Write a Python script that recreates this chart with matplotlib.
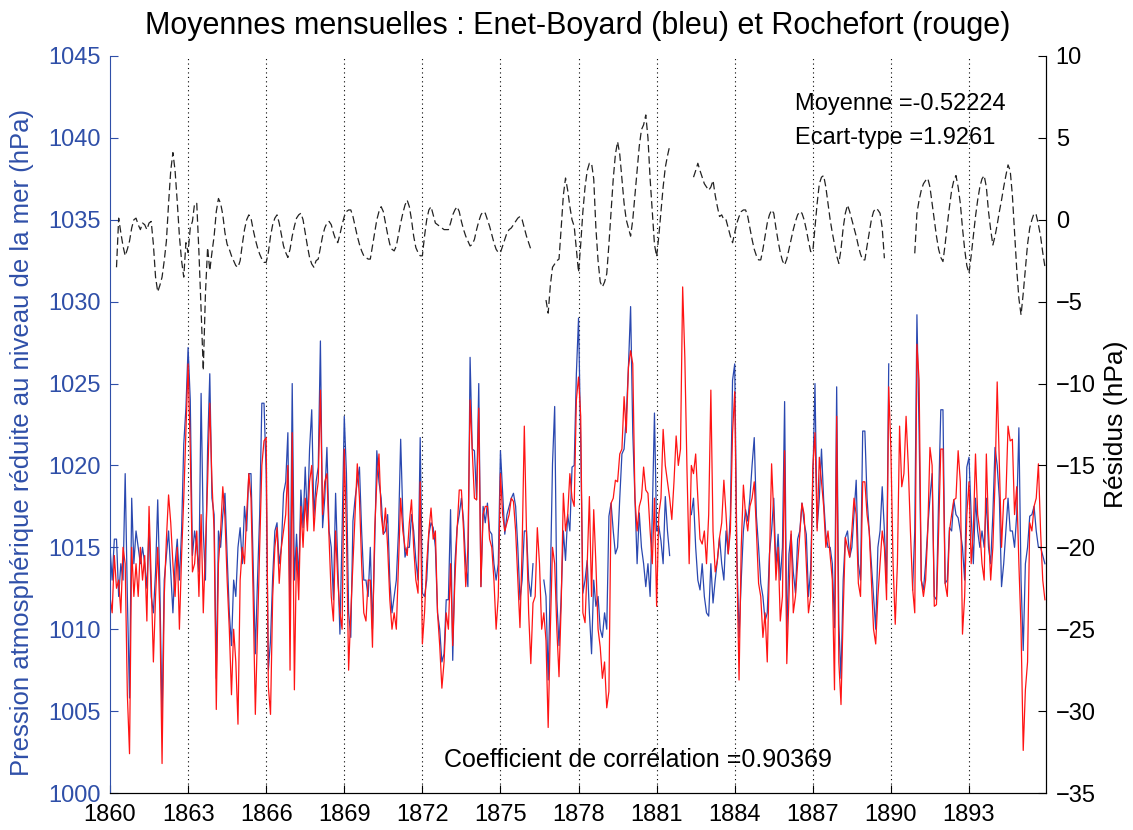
import numpy as np
import matplotlib
matplotlib.use("Agg")
import matplotlib.pyplot as plt

nan = np.nan
start_year = 1860

# Enet-Boyard monthly mean pressure (hPa), one row per year 1860..1895
enet_boyard = [
    [1015, 1013, 1015.5, 1015.5, 1012, 1014, 1013, 1019.5, 1012, 1005.8, 1018, 1014],
    [1016, 1015, 1014, 1015, 1014, 1012.5, 1016.4, 1012, 1011, 1013.5, 1017.9, 1012.5],
    [1004.5, 1013, 1014.5, 1016, 1013.5, 1011, 1014, 1015.5, 1013, 1016, 1021.3, 1023.5],
    [1027.2, 1024, 1014.5, 1016, 1015, 1013.5, 1024.4, 1016, 1013, 1021, 1025.6, 1018],
    [1017, 1007, 1016, 1015, 1017, 1018.3, 1014.5, 1011, 1009, 1013, 1012, 1015],
    [1016.2, 1014, 1017.5, 1016, 1019.5, 1019.5, 1014, 1008.5, 1013, 1017, 1023.8, 1023.8],
    [1019.5, 1007.5, 1009.3, 1013.2, 1016, 1016.5, 1014, 1015, 1018.3, 1019, 1022, 1010.5],
    [1025, 1013, 1015.8, 1013, 1018.5, 1016.2, 1019.9, 1016.6, 1021, 1023.4, 1016.9, 1019],
    [1019.9, 1027.6, 1016.2, 1018, 1021.1, 1016, 1015, 1011.8, 1018.3, 1014, 1009.7, 1016],
    [1023, 1019.5, 1011, 1009.5, 1016.6, 1018, 1019, 1019.9, 1016, 1013, 1013, 1012],
    [1015, 1010, 1015, 1020.9, 1019, 1018, 1015.8, 1016, 1017, 1013, 1011, 1012],
    [1013, 1016, 1021.6, 1016.9, 1014.4, 1015, 1015, 1017, 1016, 1014.2, 1013, 1021.7],
    [1012.2, 1012, 1013, 1015.8, 1016.5, 1016.2, 1015, 1011, 1010, 1008, 1008.5, 1011.8],
    [1011.8, 1017.3, 1008.1, 1014, 1016.2, 1017, 1018, 1016.6, 1014, 1012.6, 1026.6, 1021],
    [1020.9, 1017.9, 1025, 1012.6, 1017.5, 1016.5, 1017.7, 1016, 1015.8, 1014, 1013, 1014],
    [1020.9, 1018.3, 1015.8, 1017, 1017.5, 1018, 1018.3, 1017.5, 1015, 1011.8, 1013, 1016],
    [1016, 1013, 1012, 1014, nan, nan, nan, nan, 1013, 1012, 1006.9, 1013],
    [1020.1, 1023.6, 1011.8, 1009, 1012, 1016, 1014.2, 1017, 1016, 1019.9, 1020, 1025.6],
    [1029, 1021.3, 1012.2, 1013, 1014.2, 1011, 1008.5, 1013, 1011.4, 1012, 1010, 1009.5],
    [1011, 1010, 1016.9, 1017.7, 1016, 1014.6, 1015, 1018, 1020.7, 1021, 1023, 1026],
    [1029.7, 1022, 1017.9, 1014, 1017.1, 1015, 1014, 1012.6, 1014, 1012, 1017, 1023.2],
    [1016, 1016.3, 1015.4, 1014, 1018.1, 1016, 1014.5, nan, nan, nan, nan, nan],
    [nan, nan, nan, nan, 1017, 1018, 1015, 1013, 1012.4, 1014, 1012, 1011],
    [1010.8, 1014, 1011.6, 1013, 1014.2, 1015.6, 1014, 1013, 1016, 1014.6, 1017, 1025.2],
    [1026.2, 1014.6, 1009.5, 1013, 1016, 1017.3, 1016.6, 1018, 1020, 1021.7, 1016.9, 1015],
    [1012.8, 1012, 1010.5, 1011, 1014.6, 1016, 1018, 1013.8, 1015.8, 1013, 1015, 1023.9],
    [1009.5, 1014.6, 1015.8, 1013.5, 1012.2, 1015.5, 1016, 1017.7, 1016.5, 1015.8, 1012, 1013.6],
    [1019, 1025, 1016.2, 1018, 1021, 1017.9, 1015.8, 1015, 1015, 1014, 1010.1, 1024.8],
    [1010.3, 1007, 1013, 1015.6, 1016, 1014.4, 1015, 1017, 1019.1, 1014, 1013, 1022.1],
    [1022.1, 1018, 1016, 1014, 1012, 1010, 1015, 1016, 1018.7, 1016, 1012.8, 1026.2],
    [nan, nan, nan, nan, nan, nan, nan, nan, nan, nan, 1012.4, 1016],
    [1029.2, 1022, 1013, 1012.4, 1014, 1016.2, 1018, 1019.5, 1012, 1011.8, 1018, 1023.4],
    [1023.4, 1012.8, 1013, 1016.2, 1016, 1017.9, 1017, 1016.8, 1016, 1015, 1013, 1019.9],
    [1020.5, 1017, 1014, 1018, 1016, 1015, 1016, 1015, 1018, 1015, 1014, 1017],
    [1021.1, 1020, 1018, 1012.6, 1014, 1016, 1018, 1016, 1016, 1015, 1017, 1022.3],
    [1013, 1008.7, 1014, 1015, 1016.9, 1017, 1017.5, 1016, 1015, 1015, 1014.5, 1014],
]

# Rochefort monthly mean pressure (hPa)
rochefort = [
    [1012, 1011, 1014.5, 1012.5, 1013, 1011, 1015, 1014, 1006, 1002.4, 1015, 1012],
    [1014, 1012, 1015, 1013, 1014.5, 1010.5, 1017.5, 1013, 1008, 1012, 1015, 1011],
    [1001.8, 1012, 1015.5, 1018.2, 1016.5, 1014, 1012, 1015, 1010, 1014.5, 1018, 1022],
    [1026.2, 1021, 1013.5, 1014, 1016, 1012, 1017, 1011, 1015, 1019, 1023.8, 1019],
    [1016, 1005.1, 1014, 1016, 1018.7, 1016.8, 1013, 1010, 1006, 1010, 1008, 1004.2],
    [1013, 1015, 1014, 1017, 1019.5, 1018, 1012, 1004.8, 1010, 1015, 1020, 1021.5],
    [1021.7, 1006.5, 1004.8, 1012, 1015, 1016.2, 1012.8, 1015, 1016, 1017, 1020, 1007.5],
    [1022, 1006.3, 1015, 1011.8, 1017.5, 1015, 1018, 1016, 1019, 1020, 1016, 1018],
    [1019, 1024.6, 1017, 1019, 1019.5, 1015.5, 1012, 1010.5, 1016, 1013, 1011, 1010],
    [1021, 1016, 1007.5, 1011, 1014, 1017, 1020.1, 1018, 1014, 1011, 1010.5, 1013],
    [1013, 1008.9, 1016, 1019, 1020.7, 1017, 1015.8, 1017.4, 1015, 1011.8, 1010, 1011],
    [1010, 1014, 1018, 1016, 1015, 1014.5, 1016.5, 1017.9, 1015, 1013, 1012.2, 1019],
    [1009.1, 1011, 1014, 1016, 1017.4, 1015.5, 1016, 1011, 1009, 1006.4, 1008, 1011],
    [1010, 1014, 1009, 1013, 1016, 1018.5, 1018.5, 1016, 1012.6, 1015, 1024, 1020.9],
    [1018, 1017.9, 1023.5, 1012.6, 1017, 1017.5, 1017.5, 1015.5, 1015, 1013, 1010, 1012],
    [1019.5, 1017, 1016, 1016.5, 1017, 1018, 1017.8, 1016, 1013, 1010.1, 1015, 1022.4],
    [1016, 1011, 1007.9, 1011.6, 1012, 1016.2, 1014, 1010, 1011, 1009.3, 1004, 1010],
    [1015, 1014, 1010, 1007.1, 1011.5, 1018.3, 1016, 1017, 1019.5, 1018, 1017.5, 1024],
    [1025.4, 1023, 1011, 1010.4, 1014, 1018.1, 1012, 1017.3, 1014, 1010, 1008.9, 1007],
    [1008, 1005.2, 1006.2, 1017.7, 1018, 1019.1, 1019, 1020.7, 1021, 1024.2, 1022, 1026],
    [1027, 1026.2, 1018, 1016, 1017.5, 1018, 1019.9, 1018.5, 1018.3, 1016, 1014, 1018],
    [1011.4, 1017, 1018, 1022.2, 1020, 1019, 1018, 1016.7, 1019, 1021.8, 1020, 1021],
    [1030.9, 1026.6, 1019.7, 1014, 1020, 1019.5, 1020.7, 1018, 1015.5, 1015.2, 1016, 1014],
    [1017, 1024.6, 1016, 1013.5, 1014.2, 1015.6, 1016.5, 1019.1, 1017, 1014.6, 1016, 1022],
    [1024.5, 1014, 1006.9, 1015, 1018.8, 1017, 1016, 1017.5, 1018, 1019, 1016, 1012.8],
    [1012, 1009.5, 1011, 1008, 1014, 1020.1, 1017, 1013, 1015, 1010.5, 1012, 1020.9],
    [1007.9, 1012, 1016, 1011, 1012, 1014, 1015.8, 1017.7, 1017, 1014, 1011, 1012],
    [1019.9, 1022, 1016, 1020.5, 1019, 1017.5, 1015, 1016, 1014.5, 1013, 1006.3, 1023],
    [1008, 1005.4, 1011, 1015.6, 1015, 1014.4, 1016, 1018, 1017, 1012.8, 1012, 1019],
    [1019, 1017, 1016, 1013, 1010, 1009.1, 1012, 1014, 1016, 1015, 1011.8, 1024.8],
    [1020.9, 1014, 1010.3, 1014, 1022.4, 1018.7, 1019.5, 1023, 1020, 1016, 1012.5, 1011],
    [1027.4, 1025.2, 1013, 1012, 1013, 1016, 1021.1, 1020, 1011.4, 1011.5, 1016, 1021],
    [1021, 1012.8, 1012, 1016, 1017, 1017.9, 1018, 1020.9, 1019, 1009.7, 1012, 1017],
    [1019, 1014, 1016, 1020.7, 1017, 1016, 1014, 1013, 1020.7, 1016, 1013, 1015],
    [1019, 1025.1, 1020, 1015, 1017.9, 1018, 1022.4, 1021.5, 1021.6, 1017, 1018.7, 1014],
    [1010, 1002.6, 1006.3, 1008, 1016.5, 1016, 1017.5, 1018, 1020.1, 1016, 1013, 1011.8],
]

# Residuals (hPa), right axis
residus = [
    [nan, nan, nan, -2.9, 0.1, -0.8, -1.6, -2.2, -1.8, -1.3, -0.5, 0.0],
    [0.1, -0.3, -0.6, -0.2, -0.3, -0.6, -0.2, -0.1, -1.5, -3.5, -4.4, -4.0],
    [-3.5, -2.5, -1.3, 1.0, 3.0, 4.1, 3.0, 1.1, -1.0, -2.5, -3.5, -1.4],
    [-2.0, -0.5, -0.1, 1.0, 1.0, -2.0, -5.5, -9.2, -4.5, -1.7, -3.1, -2.0],
    [-1.0, 0.5, 1.3, 1.0, 0.3, -0.8, -1.5, -1.8, -2.2, -2.5, -2.8, -2.9],
    [-2.5, -1.5, -0.6, 0.0, 0.3, 0.1, -0.6, -1.2, -1.7, -2.1, -2.4, -2.6],
    [-2.6, -2.0, -1.0, -0.3, 0.1, 0.3, -0.2, -0.9, -1.6, -2.0, -2.3, -1.8],
    [-1.0, -0.4, 0.1, 0.3, 0.4, 0.0, -0.8, -1.6, -2.3, -2.7, -2.9, -2.5],
    [-2.4, -1.7, -1.0, -0.5, -0.2, -0.1, -0.3, -0.8, -1.2, -1.4, -0.9, -0.3],
    [0.2, 0.5, 0.6, 0.6, 0.2, -0.4, -1.0, -1.5, -1.9, -2.2, -2.3, -2.4],
    [-2.4, -1.6, -0.8, 0.0, 0.5, 0.8, 0.5, -0.2, -0.9, -1.5, -1.8, -1.9],
    [-1.6, -0.9, -0.2, 0.4, 0.9, 1.2, 0.8, 0.0, -1.0, -1.7, -2.0, -2.2],
    [-2.2, -1.0, 0.0, 0.6, 0.8, 0.3, -0.2, -0.3, -0.4, -0.5, -0.6, -0.6],
    [-0.6, -0.2, 0.3, 0.6, 0.8, 0.5, -0.1, -0.6, -1.0, -1.3, -1.6, -1.5],
    [-1.2, -0.6, -0.1, 0.3, 0.5, 0.4, 0.0, -0.4, -0.9, -1.4, -1.8, -2.0],
    [-2.0, -1.6, -1.2, -0.8, -0.6, -0.5, -0.3, -0.1, 0.1, 0.2, 0.0, -0.5],
    [-1.0, -1.4, -1.8, nan, nan, nan, nan, nan, nan, -4.9, -5.7, -4.0],
    [-2.9, -2.7, -2.5, -2.4, -0.5, 1.5, 2.55, 1.8, 0.8, 0.0, -0.4, -1.8],
    [-3.2, -1.5, 0.5, 2.0, 3.0, 3.45, 3.45, 2.5, -0.5, -2.5, -3.8, -4.1],
    [-3.8, -3.3, -1.5, 0.5, 2.5, 4.0, 4.77, 4.0, 2.5, 1.0, 0.0, -0.5],
    [-1.0, 0.0, 1.5, 3.0, 4.5, 5.5, 5.8, 6.4, 5.0, 2.5, 0.5, -1.5],
    [-2.25, -1.0, 0.5, 2.0, 3.2, 3.9, 4.5, nan, nan, nan, nan, nan],
    [nan, nan, nan, nan, nan, 2.6, 3.0, 3.45, 3.0, 2.6, 2.2, 2.0],
    [1.8, 2.0, 2.4, 1.5, 0.8, 0.2, 0.3, 0.0, 0.0, -0.5, -1.0, -1.4],
    [-0.8, -0.2, 0.2, 0.5, 0.6, 0.6, 0.2, -0.5, -1.2, -1.8, -2.2, -2.45],
    [-2.45, -1.8, -1.0, -0.2, 0.3, 0.6, 0.4, -0.5, -1.3, -2.0, -2.5, -2.76],
    [-2.4, -1.8, -1.2, -0.6, -0.1, 0.3, 0.5, 0.4, 0.0, -0.6, -1.3, -1.94],
    [-1.94, -0.5, 1.0, 2.2, 2.6, 2.7, 2.0, 1.0, 0.0, -0.8, -1.5, -2.2],
    [-2.66, -1.8, -0.5, 0.4, 0.9, 0.5, 0.0, -0.5, -1.0, -1.6, -2.1, -2.45],
    [-2.45, -1.6, -0.8, 0.0, 0.5, 0.7, 0.6, 0.4, -0.5, -2.35, nan, nan],
    [nan, nan, nan, nan, nan, nan, nan, nan, nan, nan, nan, -2.05],
    [0.4, 1.2, 1.8, 2.2, 2.4, 2.53, 2.0, 1.0, 0.0, -1.0, -1.8, -2.3],
    [-2.55, -1.5, -0.3, 0.8, 1.8, 2.4, 2.7, 2.0, 1.0, -0.5, -1.8, -2.8],
    [-3.27, -2.2, -1.0, 0.2, 1.2, 2.0, 2.5, 2.7, 2.0, 0.5, -0.6, -1.54],
    [-1.0, -0.3, 0.5, 1.2, 2.0, 2.7, 3.35, 3.0, 1.5, -0.8, -3.0, -4.8],
    [-5.81, -4.5, -3.0, -1.5, -0.5, 0.0, 0.4, 0.3, -0.3, -1.0, -2.0, -2.86],
]

xticks = [1860, 1863, 1866, 1869, 1872, 1875, 1878, 1881, 1884, 1887, 1890, 1893]
left_ticks = [1000, 1005, 1010, 1015, 1020, 1025, 1030, 1035, 1040, 1045]
right_ticks = [-35, -30, -25, -20, -15, -10, -5, 0, 5, 10]

blue_series = np.array(enet_boyard, dtype=float).ravel()
red_series = np.array(rochefort, dtype=float).ravel()
res_series = np.array(residus, dtype=float).ravel()
t = start_year + np.arange(blue_series.size) / 12.0

plt.rcParams['font.family'] = ['Liberation Sans', 'DejaVu Sans']
BLUE_TXT = '#2f4fa8'

fig = plt.figure(figsize=(11.33, 8.30), dpi=100)
ax = fig.add_axes([110/1133, 1-793/830, (1046-110)/1133, (793-56)/830])
ax.plot(t, blue_series, color='#2a48b0', lw=0.9)
ax.plot(t, red_series, color='#ff1414', lw=0.9)
ax.set_xlim(1860, 1860 + 936/26.03)
ax.set_ylim(1000, 1045)
ax.set_xticks(xticks)
ax.set_yticks(left_ticks)
ax.tick_params(axis='both', direction='in', length=6, labelsize=17, top=False)
ax.tick_params(axis='y', colors=BLUE_TXT, labelcolor=BLUE_TXT, pad=7)
ax.tick_params(axis='x', pad=8)
ax.spines['left'].set_color(BLUE_TXT)
ax.spines['top'].set_visible(False)
for xv in xticks[1:]:
    ax.axvline(xv, color='black', lw=0.8, ls=(0, (1, 3)), zorder=0)
ax.set_ylabel('Pression atmosphérique réduite au niveau de la mer (hPa)',
              fontsize=18.5, color=BLUE_TXT)
ax.yaxis.set_label_coords(-0.081, 0.476)
ax.set_title('Moyennes mensuelles : Enet-Boyard (bleu) et Rochefort (rouge)',
             fontsize=22, pad=16)
ax.text(0.564, 0.045, 'Coefficient de corrélation =0.90369', transform=ax.transAxes,
        fontsize=18, ha='center', va='center')

ax2 = ax.twinx()
ax2.plot(t, res_series, color='#222222', lw=0.9, ls=(0, (6, 3)))
ax2.set_ylim(-35, 10)
ax2.set_yticks(right_ticks)
ax2.tick_params(axis='y', direction='in', length=6, labelsize=17, pad=7)
ax2.set_ylabel('Résidus (hPa)', fontsize=19, labelpad=6)
ax2.spines['left'].set_visible(False)
ax2.spines['top'].set_visible(False)
ax2.text(0.732, 0.935, 'Moyenne =-0.52224', transform=ax2.transAxes, fontsize=17, va='center')
ax2.text(0.732, 0.889, 'Ecart-type =1.9261', transform=ax2.transAxes, fontsize=17, va='center')

fig.savefig('out.png', dpi=100)
